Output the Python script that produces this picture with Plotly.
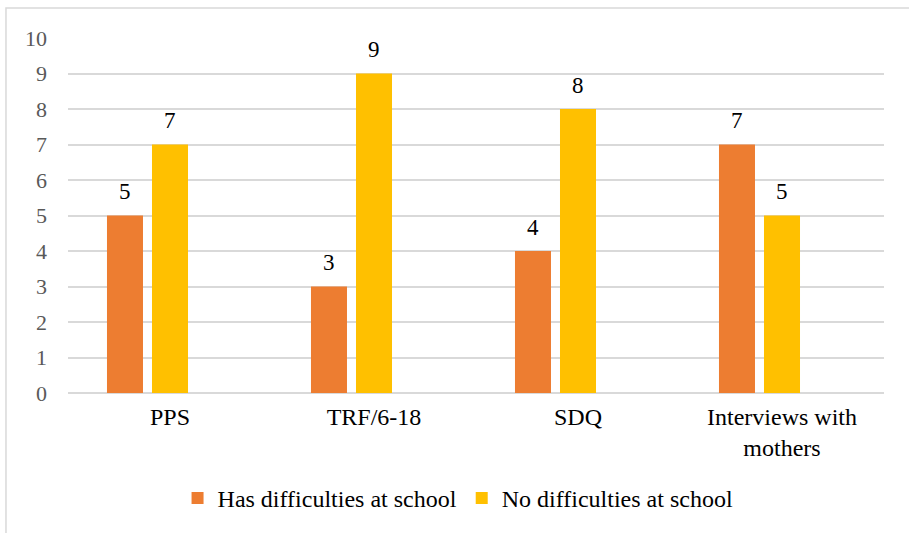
import plotly.graph_objects as go

categories = ["PPS", "TRF/6-18", "SDQ", "Interviews with<br>mothers"]
has_difficulties = [5, 3, 4, 7]
no_difficulties = [7, 9, 8, 5]
series_names = ["Has difficulties at school", "No difficulties at school"]
y_ticks = list(range(0, 11))

ORANGE = "#ED7D31"
YELLOW = "#FFC000"
FONT = "'Liberation Serif', 'Times New Roman', Times, serif"

fig = go.Figure()
fig.add_trace(go.Bar(x=categories, y=has_difficulties, name=series_names[0],
                     marker=dict(color=ORANGE, line=dict(width=0))))
fig.add_trace(go.Bar(x=categories, y=no_difficulties, name=series_names[1],
                     marker=dict(color=YELLOW, line=dict(width=0))))
# empty third slot in each cluster keeps the bars left of the category centre
fig.add_trace(go.Bar(x=categories, y=[None] * len(categories), showlegend=False,
                     hoverinfo="skip"))

# value labels above bars
slot_px = 45
for vals, shift in ((has_difficulties, -slot_px), (no_difficulties, 0)):
    for c, v in zip(categories, vals):
        fig.add_annotation(x=c, y=v, text=str(v), showarrow=False,
                           xshift=shift, yshift=24, yanchor="middle",
                           font=dict(family=FONT, size=23, color="#000000"))

# outer frame
fig.add_shape(type="rect", xref="paper", yref="paper",
              x0=-0.076, x1=1.2, y0=-0.6, y1=1.0844,
              line=dict(color="#D9D9D9", width=1.5), layer="below")

fig.update_layout(
    width=909, height=533,
    margin=dict(l=68, r=25, t=38, b=140),
    paper_bgcolor="white", plot_bgcolor="white",
    barmode="group", bargap=0.338, bargroupgap=0.2,
    font=dict(family=FONT, size=23, color="#000000"),
    showlegend=True,
    legend=dict(orientation="h", x=0.478, xanchor="center", y=-0.297,
                yanchor="middle", font=dict(family=FONT, size=24, color="#000000"),
                itemwidth=30, traceorder="normal"),
    xaxis=dict(showgrid=False, showline=False, ticks="", zeroline=False,
               tickfont=dict(family=FONT, size=24, color="#000000"),
               ticklabelstandoff=7),
    yaxis=dict(range=[0, 10], tickvals=y_ticks, showgrid=True,
               gridcolor="#D9D9D9", gridwidth=1.5, zeroline=True,
               zerolinecolor="#D9D9D9", zerolinewidth=1.5, showline=False,
               ticks="", tickfont=dict(family=FONT, size=22, color="#595959"),
               ticklabelstandoff=20),
)

fig.write_html("out.html")
